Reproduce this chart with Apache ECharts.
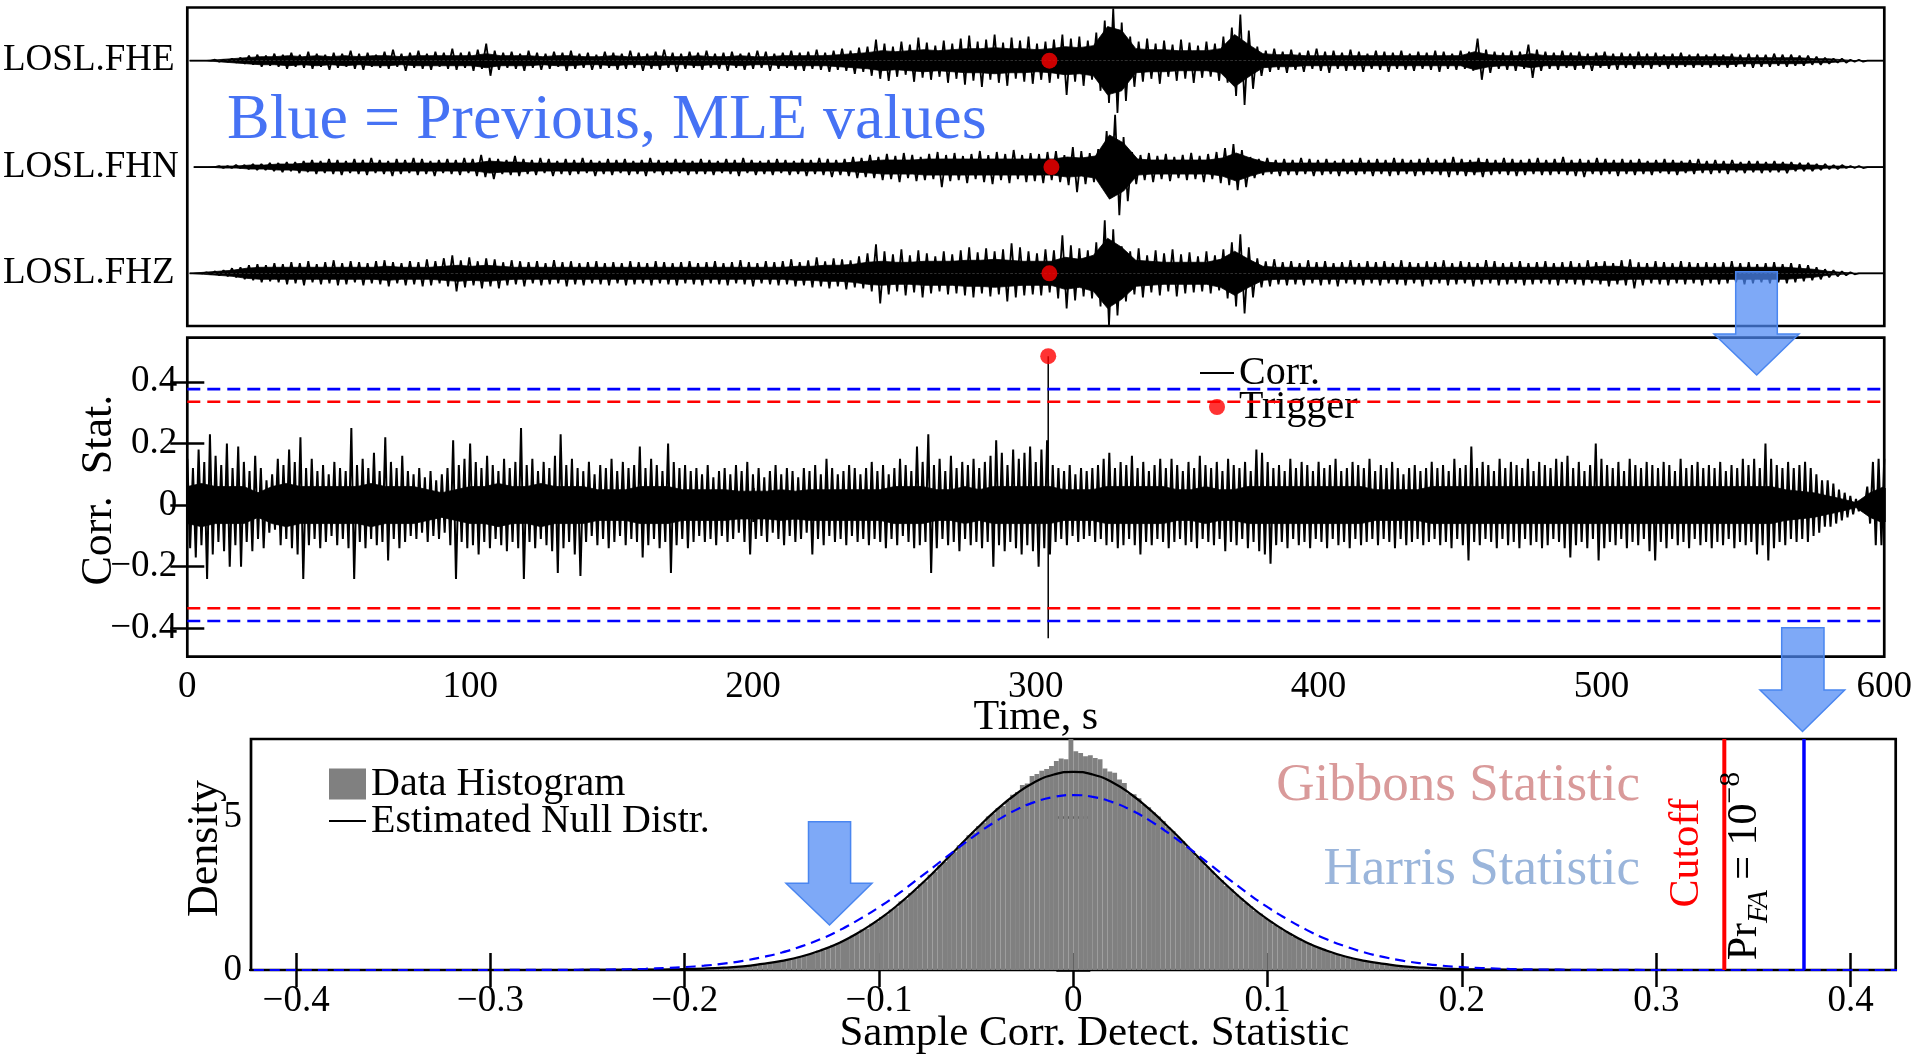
<!DOCTYPE html>
<html><head><meta charset="utf-8">
<script src="https://cdn.jsdelivr.net/npm/echarts/dist/echarts.min.js"></script>
<style>html,body{margin:0;padding:0;background:#fff}#c{width:1915px;height:1056px}</style>
</head><body><div id="c"></div>
<script>
// ---------------- DATA ----------------
const channels = ['LOSL.FHE', 'LOSL.FHN', 'LOSL.FHZ'];
const traceDuration = 600; // seconds, samples evenly spread over [0, 600]
// Seismogram peak envelopes (normalised counts), one value every 3 s
const fheUpper = [0,0,0,1,1,2,3,5,6,5, 7,6,8,6,9,7,6,8,7,10, 7,8,6,9,11,7,8,10,7,9, 8,12,8,9,11,17,10,8,9,7,
 10,8,7,9,8,10,7,8,6,9, 8,7,10,8,7,9,11,8,7,9, 8,10,7,8,9,7,8,10,9,7, 8,10,8,9,11,8,10,12,10,13,
 14,21,17,14,19,16,23,18,15,20, 17,22,25,19,21,26,18,23,20,24, 17,19,21,26,22,24,20,28,40,52, 38,24,19,22,17,20,16,21,18,15,
 19,17,24,33,46,30,14,10,12,9, 11,8,10,12,9,10,8,11,9,7, 10,9,8,10,7,9,8,10,9,7, 10,9,22,11,9,8,10,9,16,11,
 9,8,10,8,9,7,8,9,7,8, 7,9,7,8,6,7,8,6,7,6, 7,6,7,6,7,6,6,7,6,6, 5,5,4,3,2,2,1,1,0,0, 0];
const fheLower = [0,0,0,-1,-1,-2,-3,-4,-6,-5, -6,-8,-6,-7,-8,-6,-9,-7,-6,-8, -9,-6,-7,-8,-6,-10,-7,-8,-9,-6, -8,-9,-7,-10,-8,-15,-9,-7,-8,-10,
 -7,-9,-8,-6,-10,-8,-7,-9,-8,-7, -9,-8,-7,-10,-8,-9,-7,-11,-8,-7, -9,-7,-8,-10,-7,-9,-8,-7,-10,-8, -7,-9,-10,-8,-9,-11,-9,-10,-13,-11,
 -15,-18,-20,-16,-14,-21,-17,-19,-16,-22, -18,-24,-20,-26,-19,-22,-25,-18,-21,-23, -19,-22,-18,-34,-21,-25,-19,-30,-42,-52, -40,-26,-21,-18,-23,-16,-20,-18,-22,-17,
 -16,-20,-22,-35,-44,-28,-15,-11,-9,-12, -9,-11,-8,-10,-12,-8,-10,-9,-11,-8, -9,-11,-8,-9,-10,-8,-9,-11,-8,-9, -8,-10,-19,-12,-8,-9,-10,-8,-17,-10,
 -8,-9,-7,-9,-8,-10,-7,-8,-9,-7, -8,-7,-8,-6,-8,-7,-6,-7,-6,-7, -6,-7,-6,-6,-7,-6,-6,-5,-6,-5, -5,-4,-4,-3,-2,-2,-1,-1,0,0, 0];
const fhnUpper = [0,0,0,1,1,2,2,3,3,4, 4,5,5,6,7,6,8,7,6,8, 7,9,7,6,8,7,9,8,6,7, 8,7,9,8,12,9,8,7,11,8,
 7,9,8,6,8,7,9,7,6,8, 7,8,6,7,9,7,6,8,7,6, 8,7,6,8,7,9,7,6,7,8, 7,6,8,7,9,8,7,8,10,9,
 12,10,13,11,14,12,10,13,15,12, 14,11,13,16,12,15,13,17,12,14, 13,15,16,12,20,16,14,18,36,52, 30,15,12,14,11,13,10,12,14,11,
 13,15,19,23,17,10,8,9,7,8, 7,9,8,7,8,6,8,7,9,7, 8,7,9,8,7,8,9,7,8,10, 8,7,9,8,7,9,8,7,8,9,
 7,8,10,7,8,7,9,8,7,8, 7,8,6,7,8,7,6,7,8,6, 7,6,7,5,6,6,5,6,5,5, 4,4,3,3,2,2,1,1,0,0, 0];
const fhnLower = [0,0,0,-1,-1,-1,-2,-3,-3,-4, -5,-4,-6,-5,-7,-6,-7,-8,-6,-7, -8,-6,-7,-9,-7,-6,-8,-7,-9,-6, -7,-8,-6,-9,-10,-12,-7,-8,-9,-7,
 -8,-6,-9,-7,-8,-7,-6,-9,-7,-8, -6,-8,-7,-9,-6,-8,-7,-6,-8,-7, -7,-8,-6,-7,-9,-6,-8,-7,-8,-6, -8,-7,-9,-7,-8,-10,-8,-9,-11,-10,
 -11,-13,-12,-15,-11,-14,-13,-12,-20,-14, -13,-16,-12,-15,-17,-13,-16,-12,-15,-14, -16,-13,-15,-18,-25,-17,-15,-20,-30,-48, -34,-17,-13,-15,-12,-14,-11,-13,-12,-15,
 -12,-16,-18,-23,-20,-11,-8,-7,-9,-8, -8,-7,-9,-8,-7,-9,-7,-8,-7,-9, -7,-9,-8,-7,-9,-8,-7,-8,-10,-8, -9,-8,-10,-8,-7,-8,-9,-8,-7,-8,
 -8,-7,-8,-9,-10,-7,-8,-7,-9,-7, -8,-7,-8,-6,-7,-8,-6,-7,-6,-7, -6,-7,-5,-6,-5,-6,-5,-5,-6,-4, -4,-4,-3,-2,-2,-1,-1,-1,0,0, 0];
const fhzUpper = [0,0,1,2,3,5,6,8,9,8, 10,9,11,10,12,9,11,13,10,12, 11,10,12,13,11,10,12,11,14,12, 15,18,13,16,12,15,14,11,13,12,
 11,12,10,13,11,12,10,11,12,10, 11,10,12,11,10,12,11,10,11,12, 10,11,12,10,11,13,11,10,12,11, 12,14,11,13,16,12,15,14,13,17,
 20,29,22,19,24,18,23,20,17,22, 19,23,26,21,25,22,24,30,26,22, 20,24,23,38,28,25,23,31,53,44, 27,22,25,18,23,20,24,19,21,17,
 22,18,24,31,39,26,15,12,14,11, 12,10,13,11,12,10,11,13,10,12, 11,12,10,13,11,10,12,11,13,10, 12,11,10,13,12,10,11,12,10,11,
 12,10,11,12,10,13,11,12,10,13, 14,11,10,12,11,10,12,11,10,11, 10,11,12,10,11,9,10,11,9,10, 9,8,6,4,3,2,1,0,0,0, 0];
const fhzLower = [0,0,-1,-2,-3,-4,-6,-7,-9,-8, -9,-11,-10,-12,-9,-11,-10,-12,-11,-9, -12,-10,-11,-13,-10,-12,-11,-13,-12,-10, -13,-18,-14,-12,-15,-13,-15,-12,-11,-13,
 -10,-12,-11,-10,-13,-11,-12,-10,-11,-12, -10,-12,-11,-10,-12,-10,-11,-12,-10,-11, -12,-10,-11,-12,-10,-11,-13,-10,-11,-12, -11,-13,-12,-14,-13,-15,-13,-16,-14,-15,
 -18,-30,-21,-18,-22,-19,-24,-20,-18,-21, -20,-22,-24,-20,-23,-21,-28,-24,-22,-21, -22,-19,-25,-35,-27,-23,-25,-33,-52,-42, -28,-21,-24,-19,-22,-18,-23,-20,-19,-18,
 -20,-17,-25,-33,-40,-24,-14,-13,-11,-12, -11,-12,-10,-12,-11,-13,-10,-11,-12,-10, -12,-10,-11,-12,-10,-13,-11,-10,-12,-11, -10,-13,-11,-10,-12,-11,-10,-12,-11,-10,
 -11,-12,-10,-11,-12,-10,-11,-13,-11,-12, -15,-12,-10,-11,-12,-10,-11,-10,-12,-10, -11,-10,-9,-11,-10,-9,-10,-9,-10,-9, -8,-7,-6,-4,-3,-2,-1,0,0,0, 0];
// Half-width of the dense core of each seismogram, one value every 5 s
const fheCore = [0,0,1,2,3,4,4,5,4,5, 4,5,4,5,5,4,5,5,5,5, 5,7,5,5,5,4,5,5,4,4, 5,4,4,5,4,4,5,4,4,5,
 4,4,5,5,5,5,6,7,8,10, 9,10,11,10,11,12,12,13,12,12, 11,12,14,13,15,34,30,12,11,11, 10,10,10,12,26,16,7,6,6,5,
 5,5,5,5,5,5,5,5,5,5, 5,9,6,5,5,7,5,5,5,4, 5,4,4,4,4,4,4,4,4,4, 3,3,3,3,3,2,2,1,0,0, 0];
const fhnCore = [0,0,1,1,2,2,3,3,4,4, 4,4,4,4,4,4,4,4,4,4, 4,6,5,5,4,4,4,4,4,4, 4,4,4,4,4,4,4,4,4,4,
 4,4,4,4,4,4,4,5,6,7, 7,7,8,8,8,8,8,8,8,8, 8,8,10,9,11,32,24,8,7,7, 7,7,7,9,14,9,5,4,4,4,
 4,4,4,4,4,4,4,4,4,4, 4,5,4,4,4,4,4,4,4,4, 4,4,4,4,4,4,4,3,3,3, 3,3,3,3,2,2,1,1,0,0, 0];
const fhzCore = [0,1,2,3,5,6,6,6,6,6, 6,6,6,6,7,6,6,6,7,8, 7,8,7,6,6,6,6,6,6,6, 6,6,6,6,6,6,6,6,6,6,
 6,6,6,7,7,8,8,9,11,12, 11,11,12,12,12,13,13,14,13,12, 12,12,16,14,18,35,26,13,12,11, 11,11,11,14,22,14,7,6,6,6,
 6,6,6,6,6,6,6,6,6,6, 6,6,6,6,6,6,6,6,6,6, 7,7,6,6,6,6,6,6,6,6, 6,6,6,6,5,4,2,1,0,0, 0];
// Correlation statistic peak envelope, one value every 2 s
const corrUpper = [.15,.12,.18,.14,.23,.16,.13,.20,.12,.19, .14,.11,.16,.12,.08,.10,.15,.13,.18,.14, .22,.12,.15,.11,.13,.10,.14,.12,.11,.25,
 .13,.15,.12,.17,.11,.22,.14,.12,.16,.11, .10,.12,.09,.11,.08,.10,.12,.21,.13,.15, .20,.14,.12,.16,.13,.11,.15,.12,.14,.25,
 .13,.15,.11,.14,.12,.16,.23,.13,.15,.12, .11,.14,.10,.13,.12,.15,.11,.14,.12,.13, .19,.12,.15,.13,.11,.20,.14,.12,.13,.11,
 .12,.10,.13,.09,.11,.12,.10,.13,.11,.14, .10,.12,.09,.11,.13,.10,.12,.11,.09,.12, .11,.13,.10,.15,.12,.10,.11,.13,.12,.10,
 .12,.14,.11,.13,.10,.12,.15,.13,.11,.19, .14,.23,.13,.15,.11,.16,.12,.14,.13,.15, .12,.14,.16,.21,.17,.13,.18,.15,.17,.19,
 .14,.18,.21,.13,.12,.11,.13,.10,.12,.11, .12,.13,.15,.17,.12,.14,.13,.16,.12,.14, .11,.13,.15,.12,.15,.13,.11,.14,.12,.16,
 .13,.12,.14,.11,.15,.13,.12,.14,.11,.18, .17,.14,.12,.13,.11,.15,.12,.14,.13,.11, .14,.12,.13,.15,.11,.12,.14,.13,.12,.15,
 .11,.13,.12,.14,.12,.10,.12,.13,.11,.12, .14,.12,.13,.11,.15,.12,.13,.19,.12,.14, .13,.11,.15,.12,.14,.13,.12,.15,.11,.14,
 .13,.12,.15,.14,.16,.12,.14,.11,.13,.20, .15,.13,.12,.14,.11,.15,.13,.12,.14,.13, .12,.14,.13,.11,.15,.12,.13,.14,.12,.13,
 .12,.14,.11,.13,.12,.15,.13,.15,.12,.20, .15,.13,.12,.14,.12,.13,.14,.12,.10,.08, .08,.07,.05,.04,.03,.02,.01,.06,.14,.15, .15];
const corrLower = [-.14,-.17,-.13,-.24,-.16,-.12,-.15,-.20,-.13,-.20, -.12,-.15,-.11,-.14,-.09,-.08,-.13,-.11,-.14,-.16, -.24,-.13,-.11,-.14,-.12,-.10,-.13,-.11,-.14,-.24,
 -.12,-.14,-.11,-.13,-.12,-.18,-.11,-.14,-.12,-.10, -.11,-.09,-.12,-.10,-.11,-.09,-.13,-.24,-.12,-.14, -.13,-.16,-.12,-.14,-.11,-.13,-.15,-.12,-.14,-.24,
 -.12,-.14,-.11,-.13,-.15,-.22,-.14,-.12,-.16,-.23, -.12,-.10,-.13,-.11,-.14,-.12,-.10,-.13,-.11,-.12, -.17,-.13,-.11,-.14,-.12,-.22,-.13,-.11,-.14,-.12,
 -.10,-.12,-.11,-.13,-.10,-.12,-.11,-.09,-.12,-.16, -.11,-.10,-.12,-.09,-.11,-.13,-.10,-.12,-.11,-.09, -.16,-.11,-.13,-.10,-.12,-.11,-.13,-.10,-.12,-.11,
 -.13,-.11,-.12,-.14,-.11,-.13,-.10,-.12,-.14,-.13, -.12,-.22,-.14,-.11,-.13,-.12,-.15,-.11,-.13,-.12, -.14,-.12,-.20,-.13,-.15,-.12,-.14,-.16,-.13,-.15,
 -.20,-.14,-.16,-.12,-.11,-.13,-.10,-.12,-.11,-.10, -.12,-.11,-.13,-.12,-.14,-.13,-.11,-.13,-.16,-.12, -.13,-.11,-.12,-.14,-.12,-.11,-.13,-.12,-.14,-.11,
 -.12,-.13,-.11,-.15,-.12,-.13,-.11,-.14,-.12,-.15, -.16,-.19,-.13,-.12,-.14,-.11,-.13,-.12,-.14,-.11, -.12,-.14,-.11,-.13,-.12,-.14,-.11,-.13,-.12,-.11,
 -.13,-.11,-.12,-.14,-.11,-.13,-.12,-.11,-.13,-.12, -.11,-.13,-.12,-.14,-.11,-.13,-.18,-.12,-.13,-.11, -.12,-.14,-.11,-.13,-.12,-.14,-.11,-.13,-.12,-.14,
 -.13,-.11,-.12,-.14,-.17,-.13,-.12,-.14,-.11,-.18, -.14,-.12,-.13,-.11,-.14,-.12,-.13,-.11,-.15,-.18, -.12,-.14,-.11,-.13,-.12,-.14,-.11,-.13,-.12,-.14,
 -.12,-.13,-.11,-.14,-.12,-.13,-.12,-.16,-.13,-.18, -.14,-.12,-.13,-.11,-.12,-.11,-.12,-.10,-.09,-.07, -.07,-.06,-.05,-.04,-.03,-.02,-.01,-.06,-.13,-.13, -.13];
// Half-width of the dense core of the correlation trace, one value every 5 s
const corrCore = [.06,.07,.06,.06,.06,.04,.06,.07,.06,.06, .06,.06,.06,.07,.06,.06,.06,.05,.04,.05, .06,.06,.07,.06,.06,.07,.06,.06,.06,.05,
 .05,.05,.06,.06,.06,.05,.05,.05,.05,.045, .045,.045,.05,.045,.05,.05,.05,.05,.05,.05, .06,.06,.06,.05,.05,.06,.05,.06,.06,.06,
 .06,.06,.05,.05,.05,.06,.06,.06,.06,.06, .05,.05,.06,.05,.05,.06,.06,.06,.06,.06, .06,.06,.06,.06,.05,.05,.05,.05,.06,.06,
 .06,.06,.06,.06,.06,.06,.06,.06,.06,.06, .06,.06,.06,.06,.06,.06,.06,.06,.06,.06, .06,.06,.06,.05,.045,.04,.03,.02,.008,.04, .06];
// Trigger
const triggerTime = 304.4;
const triggerCorrMax = 0.483;
const triggerCorrMin = -0.432;
// Detection thresholds
const harrisThreshold = 0.376;
const gibbonsThreshold = 0.335;
// Histogram of the correlation statistic
const histBinStart = -0.2;
const histBinWidth = 0.0025;
const histDensity = [.02,.03,.03,.05,.04,.05,.06,.08,.07,.10, .09,.13,.12,.15,.16,.20,.19,.24,.25,.29, .30,.36,.37,.43,.46,.52,.54,.63,.64,.73,
 .82,.86,.95,1.01,1.12,1.17,1.32,1.35,1.51,1.58, 1.73,1.81,1.97,2.05,2.24,2.31,2.51,2.61,2.80,2.89, 3.11,3.21,3.42,3.53,3.74,3.85,4.07,4.18,4.40,4.49,
 4.70,4.81,5.01,5.11,5.29,5.35,5.52,5.72,5.81,6.04, 6.09,6.33,6.40,6.50,6.56,6.66,6.82,6.90,6.88,7.80, 7.14,7.08,6.98,7.01,6.92,6.88,6.58,6.48,6.44,6.22,
 6.10,5.76,5.74,5.61,5.39,5.31,5.14,5.01,4.86,4.67, 4.54,4.35,4.21,4.03,3.89,3.70,3.56,3.38,3.24,3.06, 2.93,2.75,2.64,2.47,2.35,2.19,2.08,1.93,1.84,1.70,
 1.60,1.47,1.39,1.27,1.20,1.08,1.03,.92,.88,.78, .74,.65,.62,.54,.52,.45,.43,.37,.36,.30, .29,.25,.24,.20,.19,.16,.15,.13,.12,.10,
 .09,.08,.07,.06,.05,.05,.04,.04,.03,.02];
// Fitted null distributions, sampled every 0.01 from -0.43 to 0.43
const fitXStart = -0.43;
const fitXStep = 0.01;
const nullFit = [0,0,0,0,0,0,0,0,0,0,0,0,0,0,0,0,0,0,
 .001,.002,.005,.009,.016,.027,.047,.077,.12,.20,.30,.44,.64,.90,1.24,1.65,2.14,2.70,3.31,3.96,4.60,5.20,5.72,6.13,6.38,
 6.47,
 6.38,6.13,5.72,5.20,4.60,3.96,3.31,2.70,2.14,1.65,1.24,.90,.64,.44,.30,.20,.12,.077,.047,.027,.016,.009,.005,.002,.001,
 0,0,0,0,0,0,0,0,0,0,0,0,0,0,0,0,0,0];
const harrisFit = [0,0,0,0,0,0,0,0,0,0,0,0,0,0,
 .001,.002,.003,.006,.010,.016,.025,.040,.063,.095,.14,.21,.30,.42,.57,.77,1.01,1.31,1.66,2.05,2.49,2.97,3.46,3.95,4.42,4.85,5.21,5.48,5.65,
 5.71,
 5.65,5.48,5.21,4.85,4.42,3.95,3.46,2.97,2.49,2.05,1.66,1.31,1.01,.77,.57,.42,.30,.21,.14,.095,.063,.040,.025,.016,.010,.006,.003,.002,.001,
 0,0,0,0,0,0,0,0,0,0,0,0,0,0];
// Tick labels
const timeTicks = [0, 100, 200, 300, 400, 500, 600];
const corrTicks = [-0.4, -0.2, 0, 0.2, 0.4];
const statTicks = [-0.4, -0.3, -0.2, -0.1, 0, 0.1, 0.2, 0.3, 0.4];
const densityTicks = [0, 5];

// ---------------- CHART ----------------
const FONT = "'Liberation Serif','Times New Roman',serif";
const chart = echarts.init(document.getElementById('c'));
const fmt = v => (v < 0 ? '\u2212' + String(-v) : String(v));
// oscillating trace: upper peaks at t_i, lower peaks half a step later
function zigzag(up, lo) {
  const dt = traceDuration / (up.length - 1), out = [];
  for (let i = 0; i < up.length; i++) {
    out.push([i * dt, up[i]]);
    if (i < lo.length && i * dt + dt / 2 <= traceDuration) out.push([i * dt + dt / 2, lo[i]]);
  }
  return out;
}
function coreBand(name, core, ai, sign) {
  const dt = traceDuration / (core.length - 1);
  return { type: 'line', name: name + ' core', xAxisIndex: ai, yAxisIndex: ai, data: core.map((v, i) => [i * dt, sign * v]),
    symbol: 'none', lineStyle: { color: '#000', width: 0.8 }, areaStyle: { color: '#000', opacity: 1 }, itemStyle: { color: '#000' }, silent: true, z: 2 };
}
function traceSeries(name, up, lo, core, ai, w) {
  return [
    coreBand(name, core, ai, 1), coreBand(name, core, ai, -1),
    { type: 'line', name: name, xAxisIndex: ai, yAxisIndex: ai, data: zigzag(up, lo), symbol: 'none', showSymbol: false,
      lineStyle: { color: '#000', width: w }, itemStyle: { color: '#000' }, silent: true, z: 3 }
  ];
}
const tickStyle = { inside: true, length: 17, lineStyle: { color: '#000', width: 2.5 } };
const labelStyle = { fontSize: 37, fontFamily: FONT, color: '#000' };
const noSplit = { show: false };

const xAxes = [
  { gridIndex: 0, type: 'value', min: 0, max: 600, show: false },
  { gridIndex: 1, type: 'value', min: 0, max: 600, show: false },
  { gridIndex: 2, type: 'value', min: 0, max: 600, show: false },
  { gridIndex: 3, type: 'value', min: 0, max: 600, show: false },
  { gridIndex: 4, type: 'value', min: 0, max: 600, position: 'bottom', axisLine: { show: false }, splitLine: noSplit,
    axisTick: Object.assign({ customValues: timeTicks }, tickStyle),
    axisLabel: Object.assign({ customValues: timeTicks, margin: 12, formatter: fmt }, labelStyle),
    name: 'Time, s', nameLocation: 'middle', nameGap: 40, nameMoveOverlap: false,
    nameTextStyle: { fontSize: 42, fontFamily: FONT, color: '#000', verticalAlign: 'top' } },
  { gridIndex: 4, type: 'value', min: 0, max: 600, position: 'top', axisLine: { show: false }, splitLine: noSplit,
    axisTick: Object.assign({ customValues: timeTicks }, tickStyle), axisLabel: { show: false } },
  { gridIndex: 5, type: 'value', min: -0.4232, max: 0.4232, position: 'bottom', axisLine: { show: false }, splitLine: noSplit,
    axisTick: Object.assign({ customValues: statTicks }, tickStyle),
    axisLabel: Object.assign({ customValues: statTicks, margin: 13, formatter: fmt }, labelStyle),
    name: 'Sample Corr. Detect. Statistic', nameLocation: 'middle', nameGap: 42, nameMoveOverlap: false,
    nameTextStyle: { fontSize: 43, fontFamily: FONT, color: '#000', padding: [0, 0, 0, 42], verticalAlign: 'top' } },
  { gridIndex: 5, type: 'value', min: -0.4232, max: 0.4232, position: 'top', axisLine: { show: false }, splitLine: noSplit,
    axisTick: Object.assign({ customValues: statTicks }, tickStyle), axisLabel: { show: false } }
];
const yAxes = [
  { gridIndex: 0, type: 'value', min: -1, max: 1, show: false }
];
channels.forEach((ch, k) => {
  yAxes.push({ gridIndex: k + 1, type: 'value', min: -53, max: 53, axisLine: { show: false }, axisTick: { show: false }, splitLine: noSplit,
    axisLabel: Object.assign({ customValues: [0], margin: 15, formatter: () => ch }, labelStyle) });
});
yAxes.push(
  { gridIndex: 4, type: 'value', min: -0.492, max: 0.543, position: 'left', axisLine: { show: false }, splitLine: noSplit,
    axisTick: Object.assign({ customValues: corrTicks }, tickStyle),
    axisLabel: Object.assign({ customValues: corrTicks, margin: 10, formatter: fmt }, labelStyle),
    name: 'Corr.  Stat.', nameLocation: 'middle', nameGap: 66, nameMoveOverlap: false,
    nameTextStyle: { fontSize: 44, fontFamily: FONT, color: '#000', padding: [0, 0, 0, 14] } },
  { gridIndex: 4, type: 'value', min: -0.492, max: 0.543, position: 'right', axisLine: { show: false }, splitLine: noSplit,
    axisTick: Object.assign({ customValues: corrTicks }, tickStyle), axisLabel: { show: false } },
  { gridIndex: 5, type: 'value', min: 0, max: 7.54, position: 'left', axisLine: { show: false }, splitLine: noSplit,
    axisTick: Object.assign({ customValues: densityTicks }, tickStyle),
    axisLabel: Object.assign({ customValues: densityTicks, margin: 9, formatter: fmt }, labelStyle),
    name: 'Density', nameLocation: 'middle', nameGap: 24, nameMoveOverlap: false,
    nameTextStyle: { fontSize: 44, fontFamily: FONT, color: '#000', padding: [0, 0, 0, 12] } },
  { gridIndex: 5, type: 'value', min: 0, max: 7.54, position: 'right', axisLine: { show: false }, splitLine: noSplit,
    axisTick: Object.assign({ customValues: densityTicks }, tickStyle), axisLabel: { show: false } }
);

const series = [].concat(
  traceSeries('Corr.', corrUpper, corrLower, corrCore, 4, 2),
  traceSeries(channels[0], fheUpper, fheLower, fheCore, 1, 1.8),
  traceSeries(channels[1], fhnUpper, fhnLower, fhnCore, 2, 1.8),
  traceSeries(channels[2], fhzUpper, fhzLower, fhzCore, 3, 1.8)
);
series.push({ type: 'line', name: 'Corr. peak', xAxisIndex: 4, yAxisIndex: 4, data: [[triggerTime, triggerCorrMax], [triggerTime, triggerCorrMin]],
  symbol: 'none', lineStyle: { color: '#000', width: 1.5 }, z: 3 });
[1, 2, 3].forEach(ai => series.push({ type: 'scatter', name: 'Trigger', xAxisIndex: ai, yAxisIndex: ai, data: [[triggerTime, 0]],
  symbol: 'circle', symbolSize: 16, itemStyle: { color: '#ff0000' }, z: 6 }));
[[harrisThreshold, '#0000ff'], [-harrisThreshold, '#0000ff'], [gibbonsThreshold, '#ff0000'], [-gibbonsThreshold, '#ff0000']].forEach(([v, c]) =>
  series.push({ type: 'line', name: 'thr', xAxisIndex: 4, yAxisIndex: 4, data: [[0, v], [600, v]], symbol: 'none',
    lineStyle: { color: c, width: 2.6, type: [13, 7] }, z: 4 }));
series.push({ type: 'scatter', name: 'Trigger', xAxisIndex: 4, yAxisIndex: 4, data: [[triggerTime, triggerCorrMax]],
  symbol: 'circle', symbolSize: 16, itemStyle: { color: '#ff0000' }, z: 6 });
series.push({
  type: 'custom', name: 'Data Histogram', xAxisIndex: 6, yAxisIndex: 6, itemStyle: { color: '#808080' },
  data: histDensity.map((d, i) => [histBinStart + i * histBinWidth, histBinStart + (i + 1) * histBinWidth, d]),
  encode: { x: [0, 1], y: 2 },
  renderItem: function (params, api) {
    const p0 = api.coord([api.value(0), api.value(2)]);
    const p1 = api.coord([api.value(1), 0]);
    const cs = params.coordSys;
    const r = echarts.graphic.clipRectByRect({ x: p0[0], y: p0[1], width: p1[0] - p0[0], height: p1[1] - p0[1] },
      { x: cs.x, y: cs.y, width: cs.width, height: cs.height });
    return r && { type: 'rect', shape: r, style: { fill: '#808080' } };
  }, z: 2
});
series.push({ type: 'line', name: 'Estimated Null Distr.', xAxisIndex: 6, yAxisIndex: 6, smooth: true, symbol: 'none',
  data: nullFit.map((v, i) => [fitXStart + i * fitXStep, v]), lineStyle: { color: '#000', width: 2.2 }, itemStyle: { color: '#000' }, z: 4 });
series.push({ type: 'line', name: 'Harris fit', xAxisIndex: 6, yAxisIndex: 6, smooth: true, symbol: 'none',
  data: harrisFit.map((v, i) => [fitXStart + i * fitXStep, v]), lineStyle: { color: '#0000ff', width: 2.2, type: [10, 6] }, z: 5 });
series.push({ type: 'line', name: 'Cutoff', xAxisIndex: 6, yAxisIndex: 6, symbol: 'none',
  data: [[gibbonsThreshold, 0], [gibbonsThreshold, 7.54]], lineStyle: { color: '#ff0000', width: 4 }, z: 6 });
series.push({ type: 'line', name: 'Harris cutoff', xAxisIndex: 6, yAxisIndex: 6, symbol: 'none',
  data: [[harrisThreshold, 0], [harrisThreshold, 7.54]], lineStyle: { color: '#0000ff', width: 3.5 }, z: 6 });

const arrowStyle = { fill: 'rgba(76,136,244,0.72)', stroke: '#4a86f0', lineWidth: 1.5 };
function arrow(pts) { return { type: 'polygon', shape: { points: pts }, style: arrowStyle, z: 100, silent: true }; }

const option = {
  backgroundColor: '#fff',
  animation: false,
  grid: [
    { left: 187.3, top: 7.5, width: 1697, height: 318.5, show: true, borderColor: '#000', borderWidth: 2.7 },
    { left: 187.3, top: 7.5, width: 1697, height: 106.4 },
    { left: 187.3, top: 113.9, width: 1697, height: 106.3 },
    { left: 187.3, top: 220.2, width: 1697, height: 106.2 },
    { left: 187.3, top: 337.7, width: 1697, height: 319, show: true, borderColor: '#000', borderWidth: 2.7 },
    { left: 251, top: 739, width: 1644.7, height: 237.7, show: true, borderColor: '#000', borderWidth: 2.7 }
  ],
  xAxis: xAxes,
  yAxis: yAxes,
  legend: [
    { orient: 'vertical', left: 1199, top: 353, padding: 0, itemGap: -6, itemWidth: 34, itemHeight: 16, selectedMode: false,
      textStyle: { fontSize: 40, fontFamily: FONT, color: '#000' },
      data: [{ name: 'Corr.', itemStyle: { opacity: 0 } }, { name: 'Trigger', icon: 'circle' }] },
    { orient: 'vertical', left: 328, top: 764, padding: 0, itemGap: -3, itemWidth: 37, itemHeight: 31, selectedMode: false,
      textStyle: { fontSize: 40, fontFamily: FONT, color: '#000' },
      data: [{ name: 'Data Histogram', icon: 'rect' }, { name: 'Estimated Null Distr.', itemStyle: { opacity: 0 } }] }
  ],
  graphic: [
    { type: 'text', x: 227, y: 121, z: 50, silent: true,
      style: { text: 'Blue = Previous, MLE values', fill: '#4672f4', fontSize: 64, fontFamily: FONT, align: 'left', verticalAlign: 'middle' } },
    { type: 'text', x: 1640, y: 786, z: 50, silent: true,
      style: { text: 'Gibbons Statistic', fill: '#d99a9a', fontSize: 53, fontFamily: FONT, align: 'right', verticalAlign: 'middle' } },
    { type: 'text', x: 1640, y: 870, z: 50, silent: true,
      style: { text: 'Harris Statistic', fill: '#9ab5db', fontSize: 53, fontFamily: FONT, align: 'right', verticalAlign: 'middle' } },
    { type: 'text', x: 1686.5, y: 853, rotation: Math.PI / 2, z: 50, silent: true,
      style: { text: 'Cutoff', fill: '#ff0000', fontSize: 42, fontFamily: FONT, align: 'center', verticalAlign: 'middle' } },
    { type: 'text', x: 1745, y: 866, rotation: Math.PI / 2, z: 50, silent: true,
      style: { text: '{m|Pr}{s|FA}{m| = 10}{p|\u22128}', align: 'center', verticalAlign: 'middle',
        rich: { m: { fontSize: 42, fontFamily: FONT, fill: '#000', lineHeight: 58 },
                s: { fontSize: 30, fontFamily: FONT, fontStyle: 'italic', fill: '#000', lineHeight: 30, verticalAlign: 'bottom' },
                p: { fontSize: 30, fontFamily: FONT, fill: '#000', lineHeight: 30, verticalAlign: 'top' } } } },
    arrow([[1735.7, 271.7], [1777.3, 271.7], [1777.3, 334], [1799, 334], [1756.7, 375], [1714, 334], [1735.7, 334]]),
    arrow([[1781.7, 627.7], [1824, 627.7], [1824, 690], [1844.7, 690], [1802.5, 731.5], [1760, 690], [1781.7, 690]]),
    arrow([[808.5, 821.7], [850.6, 821.7], [850.6, 883.3], [872, 883.3], [829.5, 925], [786, 883.3], [808.5, 883.3]])
  ],
  series: series
};
chart.setOption(option);
</script>
</body></html>
